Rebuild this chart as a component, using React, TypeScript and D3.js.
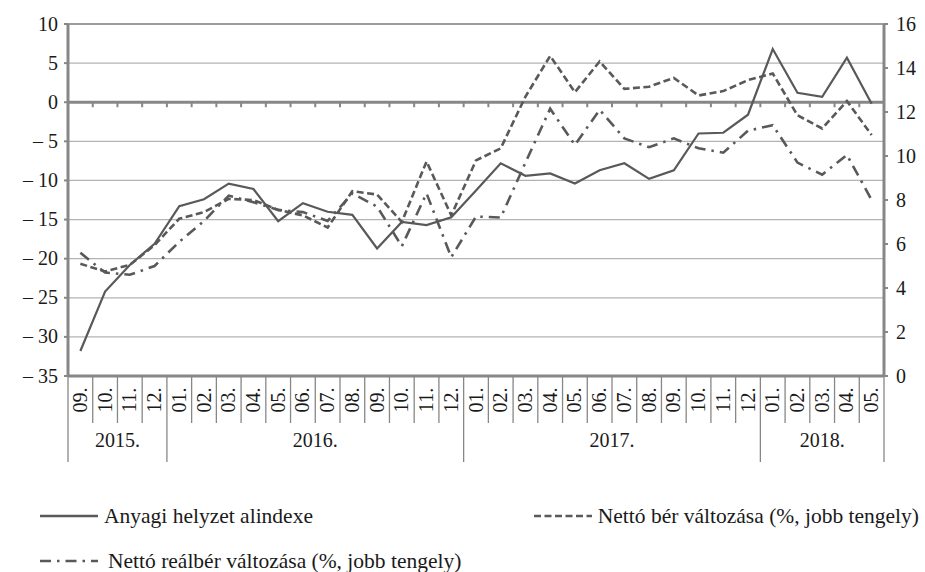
import React from "react";
import * as d3 from "d3";

// havi címkék 2015.09 - 2018.05
const months = [
  "09.", "10.", "11.", "12.",
  "01.", "02.", "03.", "04.", "05.", "06.", "07.", "08.", "09.", "10.", "11.", "12.",
  "01.", "02.", "03.", "04.", "05.", "06.", "07.", "08.", "09.", "10.", "11.", "12.",
  "01.", "02.", "03.", "04.", "05.",
];
const years = ["2015.", "2016.", "2017.", "2018."];
const monthsPerYear = [4, 12, 12, 5];

// bal tengely
const anyagi = [
  -31.8, -24.2, -20.8, -18.1,
  -13.3, -12.4, -10.4, -11.1, -15.2, -12.9, -14.0, -14.4, -18.7, -15.3, -15.7, -14.7,
  -11.3, -7.8, -9.4, -9.1, -10.4, -8.7, -7.8, -9.8, -8.7, -4.0, -3.9, -1.6,
  6.8, 1.2, 0.7, 5.7, -0.2,
];
// jobb tengely
const nettoBer = [
  5.1, 4.75, 5.05, 5.95,
  7.15, 7.45, 8.05, 8.0, 7.55, 7.3, 6.75, 8.4, 8.25, 7.0, 9.75, 7.3,
  9.8, 10.35, 12.7, 14.55, 12.9, 14.3, 13.05, 13.15, 13.55, 12.75, 12.95, 13.45,
  13.75, 11.85, 11.25, 12.5, 10.95,
];
const nettoRealber = [
  5.6, 4.7, 4.6, 5.0,
  6.1, 7.05, 8.2, 7.9, 7.55, 7.45, 7.05, 8.3, 7.7, 5.9, 8.3, 5.4,
  7.25, 7.2, 9.7, 12.15, 10.5, 12.1, 10.8, 10.4, 10.8, 10.35, 10.15, 11.15,
  11.4, 9.7, 9.15, 10.05, 8.0,
];

const leftTicks = [10, 5, 0, -5, -10, -15, -20, -25, -30, -35];
const rightTicks = [16, 14, 12, 10, 8, 6, 4, 2, 0];

const legendItems = [
  { label: "Anyagi helyzet alindexe", dash: "none" },
  { label: "Nettó bér változása (%, jobb tengely)", dash: "7,3.5" },
  { label: "Nettó reálbér változása (%, jobb tengely)", dash: "11,6,2.5,6" },
];

const lineColor = "#595959";
const axisColor = "#878787";
const gridColor = "#b3b3b3";
const txt = { fontFamily: '"Liberation Serif", "DejaVu Serif", serif', fill: "#1a1a1a" };

export default function App() {
  const width = 925;
  const height = 572;
  const left = 68;
  const right = 884;
  const top = 24;
  const bottom = 376;

  const idx = d3.range(months.length);
  const x = d3.scaleBand<number>().domain(idx).range([left, right]);
  const yL = d3.scaleLinear().domain([-35, 10]).range([bottom, top]);
  const yR = d3.scaleLinear().domain([0, 16]).range([bottom, top]);
  const cx = (i: number) => (x(i) as number) + x.bandwidth() / 2;

  const lineLeft = d3.line<number>().x((d, i) => cx(i)).y((d) => yL(d));
  const lineRight = d3.line<number>().x((d, i) => cx(i)).y((d) => yR(d));

  const yearEnds = Array.from(d3.cumsum(monthsPerYear));
  const yearStarts = [0, ...yearEnds.slice(0, -1)];
  const boundaries = d3.range(months.length + 1).map((k) => left + k * x.step());

  // jelmagyarázat elhelyezése
  const legendPos = [
    { lx: 40, ly: 516, tx: 104, anchor: "start" },
    { lx: 534, ly: 516, tx: 919, anchor: "end" },
    { lx: 40, ly: 561, tx: 108, anchor: "start" },
  ];

  return (
    <svg
      width={width}
      height={height}
      style={{ position: "absolute", left: 0, top: 0, background: "#fff" }}
    >
      {/* rácsvonalak */}
      {leftTicks.filter((t) => t !== 0 && t !== -35).map((t) => (
        <line key={t} x1={left} x2={right} y1={yL(t)} y2={yL(t)} stroke={gridColor} strokeWidth={1.2} />
      ))}

      {/* 0 vonal osztásokkal */}
      <line x1={left} x2={right} y1={yL(0)} y2={yL(0)} stroke={axisColor} strokeWidth={3} />
      {boundaries.slice(1, -1).map((bx, k) => (
        <line key={k} x1={bx} x2={bx} y1={yL(0)} y2={yL(0) + 5} stroke={axisColor} strokeWidth={2} />
      ))}

      {/* alsó tengely és kategória elválasztók */}
      <line x1={left} x2={right} y1={bottom} y2={bottom} stroke={axisColor} strokeWidth={3} />
      {boundaries.map((bx, k) => {
        const isYear = k === 0 || k === months.length || yearEnds.includes(k);
        return (
          <line key={k} x1={bx} x2={bx} y1={bottom} y2={isYear ? 462 : 423} stroke={axisColor} strokeWidth={1.3} />
        );
      })}
      {months.map((m, i) => (
        <text
          key={i}
          transform={`translate(${cx(i) + 6.5},${400}) rotate(-90)`}
          textAnchor="middle"
          fontSize={20}
          style={txt}
        >
          {m}
        </text>
      ))}
      {years.map((yl, j) => (
        <text
          key={yl}
          x={(boundaries[yearStarts[j]] + boundaries[yearEnds[j]]) / 2}
          y={447}
          textAnchor="middle"
          fontSize={20}
          style={txt}
        >
          {yl}
        </text>
      ))}

      {/* bal tengely */}
      <line x1={left} x2={left} y1={top} y2={bottom} stroke={axisColor} strokeWidth={3} />
      {leftTicks.map((t) => (
        <g key={t}>
          <line x1={left - 4} x2={left} y1={yL(t)} y2={yL(t)} stroke={axisColor} strokeWidth={2} />
          <text x={58} y={yL(t) + 6.5} textAnchor="end" fontSize={20} style={txt}>
            {t < 0 ? `\u2013 ${-t}` : t}
          </text>
        </g>
      ))}

      {/* jobb tengely */}
      <line x1={right} x2={right} y1={top} y2={bottom} stroke={axisColor} strokeWidth={3} />
      {rightTicks.map((t) => (
        <g key={t}>
          <line x1={right} x2={right + 4} y1={yR(t)} y2={yR(t)} stroke={axisColor} strokeWidth={2} />
          <text x={896} y={yR(t) + 6.5} textAnchor="start" fontSize={20} style={txt}>
            {t}
          </text>
        </g>
      ))}
      <line x1={left} x2={right} y1={top} y2={top} stroke={axisColor} strokeWidth={1.5} />

      {/* adatsorok */}
      <path d={lineRight(nettoRealber) || ""} fill="none" stroke={lineColor} strokeWidth={2.6} strokeDasharray="11,6,2.5,6" />
      <path d={lineRight(nettoBer) || ""} fill="none" stroke={lineColor} strokeWidth={2.6} strokeDasharray="7,3.5" />
      <path d={lineLeft(anyagi) || ""} fill="none" stroke={lineColor} strokeWidth={2.2} />

      {/* jelmagyarázat */}
      {legendItems.map((it, k) => {
        const p = legendPos[k];
        return (
          <g key={it.label}>
            <line x1={p.lx} x2={p.lx + 58} y1={p.ly} y2={p.ly} stroke={lineColor} strokeWidth={2.6} strokeDasharray={it.dash} />
            <text x={p.tx} y={p.ly + 6.5} fontSize={21.5} textAnchor={p.anchor} style={txt}>
              {it.label}
            </text>
          </g>
        );
      })}
    </svg>
  );
}
